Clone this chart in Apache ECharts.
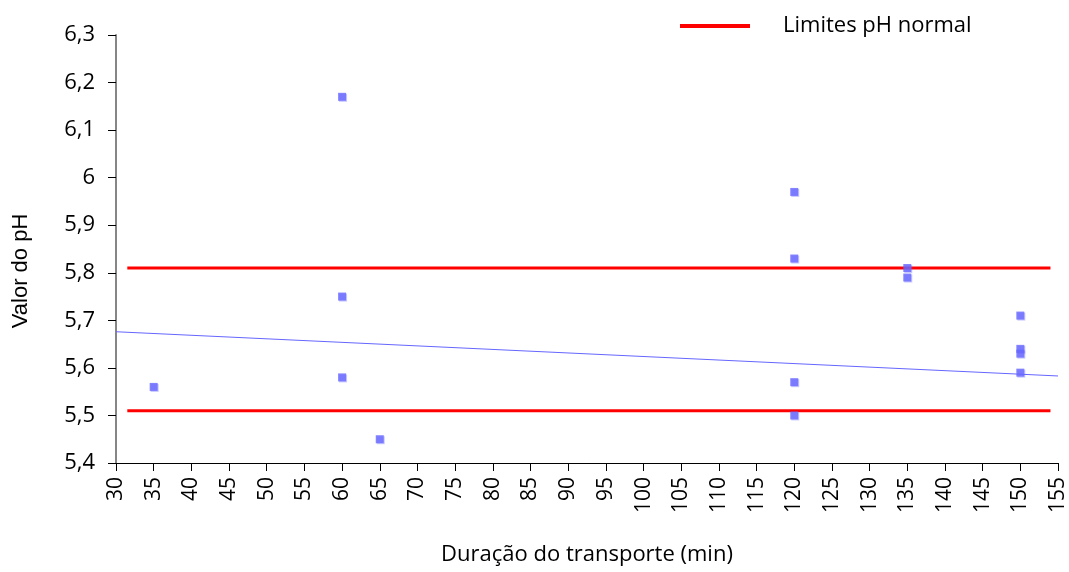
<!DOCTYPE html>
<html>
<head>
<meta charset="utf-8">
<script src="https://cdn.jsdelivr.net/npm/echarts@6/dist/echarts.min.js"></script>
<style>
  html, body { margin: 0; padding: 0; background: #fff; }
  #chart { width: 1069px; height: 572px; }
</style>
</head>
<body>
<div id="chart"></div>
<script>
// Transport duration (min) and measured pH per carcass
const duration = [35, 60, 60, 60, 65, 120, 120, 120, 120, 135, 135, 150, 150, 150, 150];
const phValue  = [5.56, 6.17, 5.75, 5.58, 5.45, 5.97, 5.83, 5.57, 5.50, 5.81, 5.79, 5.71, 5.64, 5.63, 5.59];

// Normal pH limits (upper and lower) and their horizontal extent
const limitUpper = 5.81;
const limitLower = 5.51;
const limitSpan = [31.5, 154];

// Linear trend endpoints
const trendX = [30, 155];
const trendY = [5.676, 5.583];

const fontFamily = '"Open Sans", Lato, sans-serif';
const points = duration.map((d, i) => [d, phValue[i]]);

const chart = echarts.init(document.getElementById('chart'));
chart.setOption({
  animation: false,
  backgroundColor: '#ffffff',
  grid: { left: 116, right: 11, top: 35, bottom: 109 },
  legend: {
    data: ['Limites pH normal'],
    top: 10,
    left: 675,
    itemWidth: 70,
    itemHeight: 4,
    icon: 'rect',
    textStyle: { fontFamily, fontSize: 22, color: '#000', padding: [0, 0, 0, 28] },
    selectedMode: false
  },
  xAxis: {
    type: 'value',
    min: 30, max: 155, interval: 5,
    name: 'Duração do transporte (min)',
    nameLocation: 'middle',
    nameGap: 81,
    nameTextStyle: { fontFamily, fontSize: 22, color: '#000' },
    axisLine: { show: true, onZero: false, lineStyle: { color: '#000', width: 1 } },
    axisTick: { show: true, length: 8, lineStyle: { color: '#000' } },
    axisLabel: { rotate: 90, fontFamily, fontSize: 21, color: '#000', margin: 14 },
    splitLine: { show: false }
  },
  yAxis: {
    type: 'value',
    min: 5.4, max: 6.3, interval: 0.1,
    name: 'Valor do pH',
    nameLocation: 'middle',
    nameGap: 84,
    nameRotate: 90,
    nameTextStyle: {
      fontFamily: '"Liberation Sans", Arial, sans-serif', fontSize: 22, color: '#000',
      padding: [0, 44, 0, 0]
    },
    axisLine: { show: true, onZero: false, lineStyle: { color: '#868686', width: 2 } },
    axisTick: { show: true, length: 8, lineStyle: { color: '#000' } },
    axisLabel: {
      fontFamily, fontSize: 22, color: '#000', margin: 21,
      formatter: v => String(Math.round(v * 10) / 10).replace('.', ',')
    },
    splitLine: { show: false }
  },
  series: [
    {
      name: 'Limites pH normal',
      type: 'line',
      data: [[limitSpan[0], limitUpper], [limitSpan[1], limitUpper]],
      symbol: 'none',
      lineStyle: { color: '#ff0000', width: 3 },
      itemStyle: { color: '#ff0000' },
      z: 3
    },
    {
      name: 'Limites pH normal',
      type: 'line',
      data: [[limitSpan[0], limitLower], [limitSpan[1], limitLower]],
      symbol: 'none',
      lineStyle: { color: '#ff0000', width: 3 },
      itemStyle: { color: '#ff0000' },
      z: 3
    },
    {
      name: 'Tendência',
      type: 'line',
      data: [[trendX[0], trendY[0]], [trendX[1], trendY[1]]],
      symbol: 'none',
      lineStyle: { color: '#6666ff', width: 1 },
      z: 2
    },
    {
      name: 'pH',
      type: 'scatter',
      data: points,
      symbol: 'rect',
      symbolSize: 8,
      itemStyle: {
        color: '#6666ff',
        shadowColor: 'rgba(102,102,255,0.45)',
        shadowOffsetX: 1,
        shadowOffsetY: 1,
        shadowBlur: 0
      },
      z: 4
    }
  ]
});
</script>
</body>
</html>
